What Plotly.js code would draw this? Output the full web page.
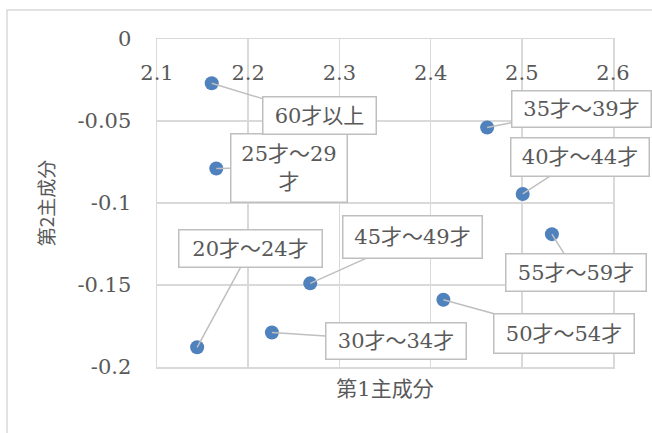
<!DOCTYPE html>
<html>
<head>
<meta charset="utf-8">
<script src="https://cdn.plot.ly/plotly-3.0.1.min.js"></script>
<style>html,body{margin:0;padding:0;background:#fff;}#chart{width:652px;height:433px;}</style>
</head>
<body>
<div id="chart"></div>
<script>
// Data
const ageGroups = ["20才～24才","25才～29<br>才","30才～34才","35才～39才","40才～44才","45才～49才","50才～54才","55才～59才","60才以上"];
const pc1 = [2.144, 2.165, 2.226, 2.462, 2.501, 2.268, 2.414, 2.533, 2.160];
const pc2 = [-0.188, -0.079, -0.179, -0.054, -0.0945, -0.149, -0.159, -0.119, -0.027];
const xTicks = [2.1, 2.2, 2.3, 2.4, 2.5, 2.6];
const yTicks = [0, -0.05, -0.1, -0.15, -0.2];

// Label box layout (pixel offsets from point to box centre, and box sizes)
const labelOffsets = [[53.5,-98.5],[73,-1],[124,8],[94,-19],[57,-37],[102.5,-46],[121,33.5],[24,38.5],[107.5,32.5]];
const labelSizes = [[145,39],[118,70],[142,38],[141,38],[140,40],[141,44],[142,41],[142,39],[115,39]];

const FONT = "DejaVu Serif, Noto Sans CJK JP, serif";
const TXT = "#595959";
const GRID = "#d9d9d9";

const trace = {
  type: "scatter", mode: "markers",
  x: pc1, y: pc2,
  marker: {color: "#4F81BD", size: 14},
  hoverinfo: "none", showlegend: false
};
// invisible companion trace to register the tick-label axis near the top
const traceTop = {
  type: "scatter", mode: "markers",
  x: pc1, y: pc2, xaxis: "x2",
  marker: {opacity: 0}, hoverinfo: "none", showlegend: false
};

const annotations = ageGroups.map((t, i) => ({
  x: pc1[i], y: pc2[i], xref: "x", yref: "y",
  text: t, showarrow: true,
  ax: labelOffsets[i][0], ay: labelOffsets[i][1],
  arrowhead: 0, arrowwidth: 1.5, arrowcolor: "#bfbfbf", standoff: 0,
  bgcolor: "#ffffff", bordercolor: "#bfbfbf", borderwidth: 1.5, borderpad: 0,
  width: labelSizes[i][0] - 3, height: labelSizes[i][1] - 3,
  font: {family: FONT, size: 21, color: TXT}, align: "center", valign: "middle"
}));

const layout = {
  width: 652, height: 433,
  margin: {l: 157, r: 39, t: 39, b: 66},
  paper_bgcolor: "#ffffff", plot_bgcolor: "#ffffff",
  font: {family: FONT, size: 21, color: TXT},
  xaxis: {
    range: [2.1, 2.6], tickvals: xTicks, showticklabels: false,
    showgrid: true, gridcolor: GRID, gridwidth: 1.5, zeroline: false,
    showline: true, linecolor: GRID, linewidth: 1.5, mirror: true, ticks: "",
    title: {text: "第1主成分", font: {family: FONT, size: 21, color: TXT}, standoff: 14}
  },
  xaxis2: {
    range: [2.1, 2.6], overlaying: "x", side: "bottom", anchor: "free",
    position: (367 - 58) / 328,
    tickvals: xTicks, ticktext: xTicks.map(v => v.toFixed(1)),
    showgrid: false, zeroline: false, showline: false, ticks: "",
    tickfont: {family: FONT, size: 21, color: TXT}
  },
  yaxis: {
    range: [-0.2, 0], tickvals: yTicks, ticktext: yTicks.map(v => String(v)),
    showgrid: true, gridcolor: GRID, gridwidth: 1.5, zeroline: false,
    showline: true, linecolor: GRID, linewidth: 1.5, mirror: true, ticks: "",
    ticklabelstandoff: 20,
    tickfont: {family: FONT, size: 21, color: TXT},
    title: {text: "第2主成分", font: {family: "Noto Sans CJK JP, sans-serif", size: 19, color: TXT}, standoff: 18}
  },
  shapes: [{
    type: "rect", xref: "paper", yref: "paper",
    x0: (7 - 157) / 456, x1: (700 - 157) / 456,
    y0: (367 - 480) / 328, y1: 1 + (39 - 10) / 328,
    line: {color: GRID, width: 1.5}, fillcolor: "rgba(0,0,0,0)", layer: "below"
  }],
  annotations: annotations
};

Plotly.newPlot("chart", [traceTop, trace], layout, {displayModeBar: false, staticPlot: true});
</script>
</body>
</html>
